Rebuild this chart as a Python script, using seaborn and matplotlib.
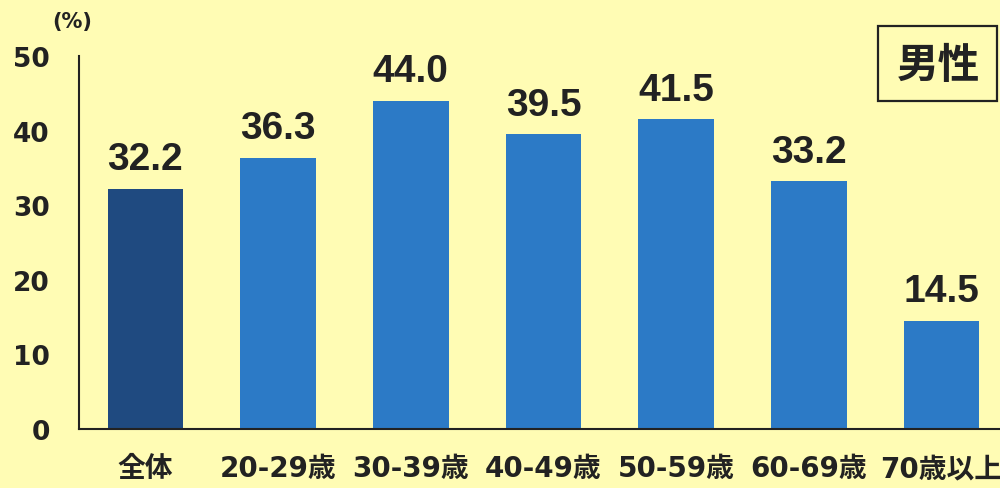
import matplotlib
matplotlib.use("Agg")
import matplotlib.pyplot as plt
from matplotlib.patches import Rectangle
import seaborn as sns
import pandas as pd

categories = ["全体", "20-29歳", "30-39歳", "40-49歳", "50-59歳", "60-69歳", "70歳以上"]
values = [32.2, 36.3, 44.0, 39.5, 41.5, 33.2, 14.5]
bar_colors = ["#1f4a80", "#2c7ac6", "#2c7ac6", "#2c7ac6", "#2c7ac6", "#2c7ac6", "#2c7ac6"]
yticks = [0, 10, 20, 30, 40, 50]

sns.set_theme(style="white")
fam = ['DejaVu Sans', 'Noto Sans CJK JP']
plt.rcParams['font.family'] = fam

ink = "#222222"
bg = "#fffcb4"
fig = plt.figure(figsize=(10, 4.89), dpi=100, facecolor=bg)
ax = fig.add_axes([0.079, 0.1207, 0.921, 0.7627])
ax.set_facecolor(bg)

df = pd.DataFrame({"cat": categories, "val": values})
sns.barplot(data=df, x="cat", y="val", hue="cat", palette=bar_colors,
            width=0.57, legend=False, ax=ax, saturation=1, linewidth=0)

for i, v in enumerate(values):
    ax.text(i, v + 2.65, f"{v:.1f}", ha="center", va="baseline",
            fontsize=28, fontweight="bold", color=ink, family=['Liberation Sans'])

ax.set_ylim(0, 50)
ax.set_xlim(-0.5, 6.44)
ax.set_yticks(yticks)
ax.set_yticklabels([str(t) for t in yticks], fontsize=19, fontweight="bold", color=ink)
ax.tick_params(axis="y", direction="in", length=9, width=1.3, color=ink, pad=21)
ax.tick_params(axis="x", length=0, pad=18)
for lbl in ax.get_xticklabels():
    lbl.set_fontsize(20)
    lbl.set_fontweight("bold")
    lbl.set_color(ink)
ax.set_xlabel("")
ax.set_ylabel("")
for s in ["top", "right"]:
    ax.spines[s].set_visible(False)
for s in ["left", "bottom"]:
    ax.spines[s].set_color(ink)
    ax.spines[s].set_linewidth(1.5)

fig.text(0.072, 0.955, "(%)", fontsize=15, fontweight="bold", color=ink,
         ha="center", va="center")
fig.patches.append(Rectangle((0.878, 0.7914), 0.119, 0.1534, transform=fig.transFigure,
                             facecolor=bg, edgecolor=ink, linewidth=1.6))
fig.text(0.938, 0.865, "男性", fontsize=30, fontweight="bold", color=ink,
         ha="center", va="center", family=['Noto Sans CJK JP'])

fig.savefig("out.png", dpi=100, facecolor=bg)
